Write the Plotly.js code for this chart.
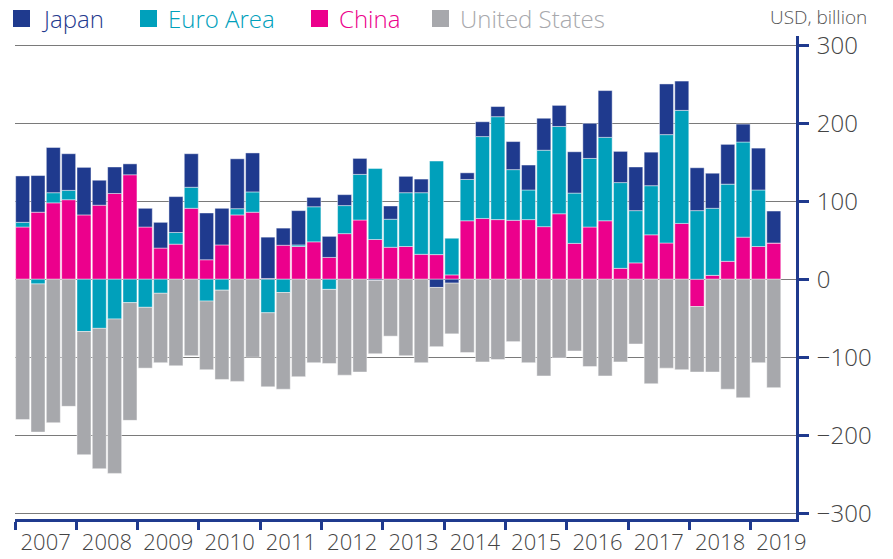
<!DOCTYPE html>
<html>
<head>
<meta charset="utf-8">
<script src="https://cdn.plot.ly/plotly-3.0.1.min.js"></script>
<style>html,body{margin:0;padding:0;background:#fff;}#chart{width:893px;height:559px;}</style>
</head>
<body>
<div id="chart"></div>
<script>
// Quarterly periods 2007 Q1 – 2019 Q2
const years = ['2007','2008','2009','2010','2011','2012','2013','2014','2015','2016','2017','2018','2019'];
const quarters = [];
years.forEach(y => ['Q1','Q2','Q3','Q4'].forEach(q => quarters.push(y + ' ' + q)));
quarters.length = 50;

// USD billion
const china = [67,86,98,102,82.5,95,110,134,67,40,45,91,25,44,82.5,86,1,43.6,42,48,28,58.5,76,51,41,42,32,31.6,5.6,75,78,76.5,75.6,76.5,67.5,84,46,67,75,14,21,57,46.5,71.6,-35,5,23,54,42,46.5];
const euroArea = [6,-6,13,12,-67,-63,-51,-30,-36,-18,15,27,-28,-14,8,26,-43,-17,2,45,-13,36,58.5,91,36,69,79,120,47,53,105,132,65,38,98,112,64.5,88,107,110,67,63,139,145,88,86,99,122,72.5,0];
const japan = [59.5,47,58,47,61,32,34,14,24,33,46,43,60,47,64,50,53,22,44,12,27,14,20.5,-1.5,17,21,17.5,-10.5,-5,8.5,19,13,36,32,41,27,53,45,60,40,56,43,65,37.6,55,45,51,23,53.7,41];
const unitedStates = [-180,-190,-184,-163,-158,-180,-198,-151,-78,-89,-111,-98,-88,-114.5,-131,-100,-95,-124,-125,-107,-95,-123,-119,-94,-73,-98,-107,-76,-65,-94,-106,-103,-80,-107,-124,-101,-92,-112,-124,-106,-83,-134,-114,-116,-84,-119,-141,-152,-107,-139];
const seriesNames = ['Japan','Euro Area','China','United States'];

const NAVY = '#1f3a8e', TEAL = '#00a0bb', MAGENTA = '#ec008c', GRAY = '#a7a8ac';
const FONT = '"Open Sans", Lato, sans-serif';
const xIdx = quarters.map((_, i) => i);
const line = {color: 'rgba(255,255,255,0.55)', width: 0.8};

function bar(name, y, color) {
  return {type: 'bar', name: name, x: xIdx, y: y, marker: {color: color, line: line},
          text: quarters, textposition: 'none',
          hovertemplate: '%{text}<br>' + name + ': %{y}<extra></extra>'};
}
const data = [
  bar(seriesNames[2], china, MAGENTA),
  bar(seriesNames[1], euroArea, TEAL),
  bar(seriesNames[0], japan, NAVY),
  bar(seriesNames[3], unitedStates, GRAY)
];

const yearCenters = years.map((_, i) => i * 4 + 1.5);

// legend built from shapes + annotations
const legendColors = [NAVY, TEAL, MAGENTA, GRAY];
const legendX = [13, 140, 311, 432];
const shapes = [], annotations = [];
seriesNames.forEach((n, i) => {
  shapes.push({type: 'rect', xref: 'paper', yref: 'paper',
    x0: (legendX[i] - 15) / 781, x1: (legendX[i] + 17 - 15) / 781,
    y0: (519 - 27) / 483, y1: (519 - 10) / 483,
    fillcolor: legendColors[i], line: {width: 0}});
  annotations.push({xref: 'paper', yref: 'paper', x: (legendX[i] + 26 - 15) / 781, y: (519 - 18.5) / 483,
    xanchor: 'left', yanchor: 'middle', showarrow: false, text: n,
    font: {family: FONT, size: 24, weight: 300, color: legendColors[i]}});
});
annotations.push({xref: 'paper', yref: 'paper', x: (869 - 15) / 781, y: (519 - 17) / 483,
  xanchor: 'right', yanchor: 'middle', showarrow: false, text: 'USD, billion',
  font: {family: FONT, size: 19, weight: 300, color: '#555'}});

const layout = {
  width: 893, height: 559,
  margin: {l: 15, r: 97, t: 36, b: 40, pad: 0},
  paper_bgcolor: '#fff', plot_bgcolor: '#fff',
  barmode: 'relative', bargap: 0.087,
  showlegend: false,
  font: {family: FONT, color: '#444'},
  xaxis: {
    range: [-0.5, 50.45], showgrid: false, zeroline: false,
    tickmode: 'array', tickvals: yearCenters, ticktext: years,
    ticks: '', ticklabelstandoff: 2,
    tickfont: {family: FONT, size: 22, weight: 300, color: '#444'},
    showline: true, linecolor: NAVY, linewidth: 3,
    minor: {tickmode: 'linear', tick0: -0.5, dtick: 4, ticks: 'outside', ticklen: 8, tickwidth: 3, tickcolor: NAVY, showgrid: false}
  },
  yaxis: {
    side: 'right', range: [-307.5, 312],
    tickmode: 'array', tickvals: [-300,-200,-100,0,100,200,300],
    showgrid: true, gridcolor: '#7a7a7a', gridwidth: 1.3,
    zeroline: true, zerolinecolor: '#7a7a7a', zerolinewidth: 1.3,
    showline: true, linecolor: NAVY, linewidth: 3,
    ticks: 'outside', ticklen: 10, tickwidth: 3, tickcolor: NAVY,
    tickfont: {family: FONT, size: 24, weight: 300, color: '#444'}, ticklabelstandoff: 3
  },
  shapes: shapes,
  annotations: annotations
};
Plotly.newPlot('chart', data, layout, {displayModeBar: false, staticPlot: true});
</script>
</body>
</html>
